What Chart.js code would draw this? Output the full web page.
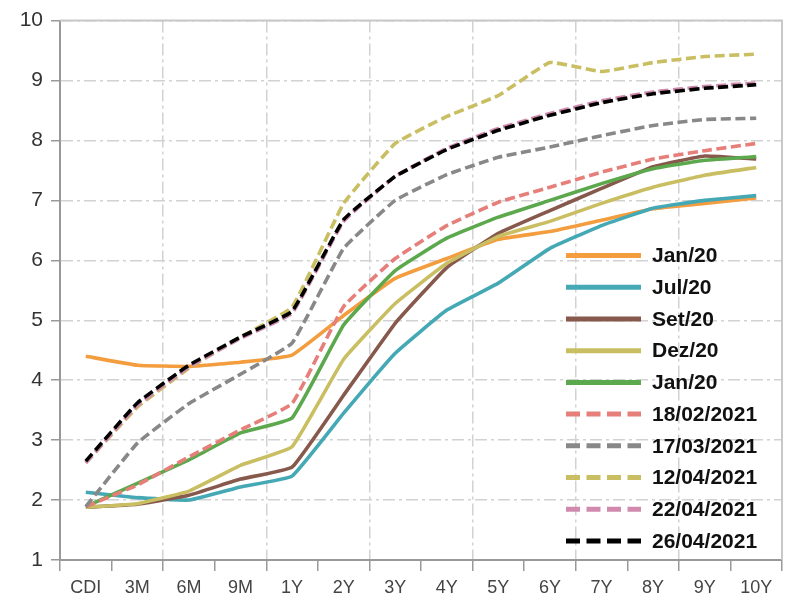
<!DOCTYPE html>
<html>
<head>
<meta charset="utf-8">
<script src="https://cdn.jsdelivr.net/npm/chart.js@4.4.1/dist/chart.umd.min.js"></script>
<style>
  html, body { margin: 0; background: #fff; }
</style>
</head>
<body>
<canvas id="curve" width="790" height="600"></canvas>
<script>
const tenors = ["CDI", "3M", "6M", "9M", "1Y", "2Y", "3Y", "4Y", "5Y", "6Y", "7Y", "8Y", "9Y", "10Y"];
const yTicks = [1, 2, 3, 4, 5, 6, 7, 8, 9, 10];

const jan20 = [4.40, 4.25, 4.23, 4.30, 4.42, 5.08, 5.70, 6.03, 6.35, 6.48, 6.67, 6.86, 6.95, 7.04];
const jul20 = [2.13, 2.04, 2.00, 2.22, 2.40, 3.45, 4.45, 5.17, 5.62, 6.20, 6.58, 6.87, 7.00, 7.08];
const set20 = [1.88, 1.93, 2.08, 2.35, 2.55, 3.75, 4.95, 5.88, 6.45, 6.83, 7.20, 7.56, 7.74, 7.69];
const dez20 = [1.88, 1.94, 2.15, 2.58, 2.89, 4.35, 5.28, 5.95, 6.40, 6.65, 6.95, 7.22, 7.42, 7.55];
const jan21 = [1.89, 2.28, 2.67, 3.12, 3.37, 4.92, 5.83, 6.37, 6.72, 7.00, 7.28, 7.53, 7.67, 7.73];
const d180221 = [1.89, 2.25, 2.72, 3.17, 3.61, 5.23, 6.03, 6.58, 6.97, 7.22, 7.47, 7.69, 7.83, 7.95];
const d170321 = [1.89, 2.95, 3.61, 4.10, 4.62, 6.20, 7.00, 7.43, 7.72, 7.89, 8.08, 8.25, 8.35, 8.37];
const d120421 = [2.62, 3.55, 4.20, 4.72, 5.22, 6.95, 7.95, 8.40, 8.75, 9.30, 9.15, 9.30, 9.40, 9.44];
const d220421 = [2.62, 3.58, 4.22, 4.70, 5.12, 6.65, 7.40, 7.87, 8.20, 8.45, 8.66, 8.81, 8.90, 8.96];
const d260421 = [2.65, 3.62, 4.25, 4.72, 5.15, 6.68, 7.40, 7.85, 8.17, 8.42, 8.63, 8.78, 8.87, 8.93];

const series = [
  { label: "Jan/20", data: jan20, color: "#f39d3f", dashed: false },
  { label: "Jul/20", data: jul20, color: "#45a8b5", dashed: false },
  { label: "Set/20", data: set20, color: "#87594d", dashed: false },
  { label: "Dez/20", data: dez20, color: "#c9bf62", dashed: false },
  { label: "Jan/20", data: jan21, color: "#5ca84c", dashed: false },
  { label: "18/02/2021", data: d180221, color: "#e67e79", dashed: true },
  { label: "17/03/2021", data: d170321, color: "#888888", dashed: true },
  { label: "12/04/2021", data: d120421, color: "#c9bf62", dashed: true },
  { label: "22/04/2021", data: d220421, color: "#cf8aae", dashed: true },
  { label: "26/04/2021", data: d260421, color: "#000000", dashed: true },
];

const gridGray = "#d2d2d2";
const axisGray = "#999999";

// frame on top/right and the legend inside the plot
const frameLegend = {
  id: "frameLegend",
  afterDatasetsDraw(chart) {
    const { ctx, chartArea: a } = chart;
    ctx.save();
    ctx.strokeStyle = "#c8c8c8";
    ctx.lineWidth = 2;
    ctx.beginPath();
    ctx.moveTo(a.left, a.top);
    ctx.lineTo(a.right, a.top);
    ctx.lineTo(a.right, a.bottom);
    ctx.stroke();

    const x0 = a.right - 216, x1 = a.right - 141, tx = a.right - 130;
    let y = a.top + 235;
    chart.data.datasets.forEach(ds => {
      ctx.strokeStyle = ds.borderColor;
      ctx.lineWidth = 5;
      ctx.setLineDash(ds.borderDash.length ? [14, 6.5] : []);
      ctx.beginPath();
      ctx.moveTo(x0, y);
      ctx.lineTo(x1, y);
      ctx.stroke();
      ctx.setLineDash([]);
      ctx.fillStyle = "#111";
      ctx.font = "bold 21px 'Liberation Sans', Arial, sans-serif";
      ctx.textBaseline = "middle";
      ctx.fillText(ds.label, tx, y + 1);
      y += 31.7;
    });
    ctx.restore();
  },
};

new Chart(document.getElementById("curve"), {
  type: "line",
  data: {
    labels: tenors,
    datasets: series.map((s, i) => ({
      label: s.label,
      data: s.data,
      borderColor: s.color,
      backgroundColor: s.color,
      borderWidth: 3.6,
      borderDash: s.dashed ? [10, 4.5] : [],
      pointRadius: 0,
      tension: 0.1,
      order: series.length - i,
    })),
  },
  options: {
    responsive: false,
    animation: false,
    devicePixelRatio: 1,
    layout: { padding: { top: 20, right: 8, left: 0, bottom: 0 } },
    plugins: { legend: { display: false }, tooltip: { enabled: false } },
    scales: {
      x: {
        offset: true,
        grid: {
          offset: true,
          color: c => (c.index !== undefined && c.index % 2 === 0 ? gridGray : "rgba(0,0,0,0)"),
          lineWidth: 1.5,
          tickColor: axisGray,
          tickLength: 11,
          tickWidth: 1.5,
        },
        border: { color: axisGray, width: 2, dash: [12, 4, 3, 4] },
        ticks: {
          color: "#444",
          font: { family: "'Liberation Sans', Arial, sans-serif", size: 18 },
          padding: 6,
          maxRotation: 0,
          autoSkip: false,
        },
        afterFit: s => { s.height = 40; },
      },
      y: {
        min: 1,
        max: 10,
        afterBuildTicks: axis => { axis.ticks = yTicks.map(v => ({ value: v })); },
        grid: {
          color: gridGray,
          lineWidth: 1.5,
          tickColor: axisGray,
          tickLength: 9,
          tickWidth: 1.5,
        },
        border: { color: axisGray, width: 2, dash: [12, 4, 3, 4] },
        ticks: {
          color: "#333",
          font: { family: "'Liberation Sans', Arial, sans-serif", size: 21 },
          padding: 8,
        },
        afterFit: s => { s.width = 60; },
      },
    },
  },
  plugins: [frameLegend],
});
</script>
</body>
</html>
